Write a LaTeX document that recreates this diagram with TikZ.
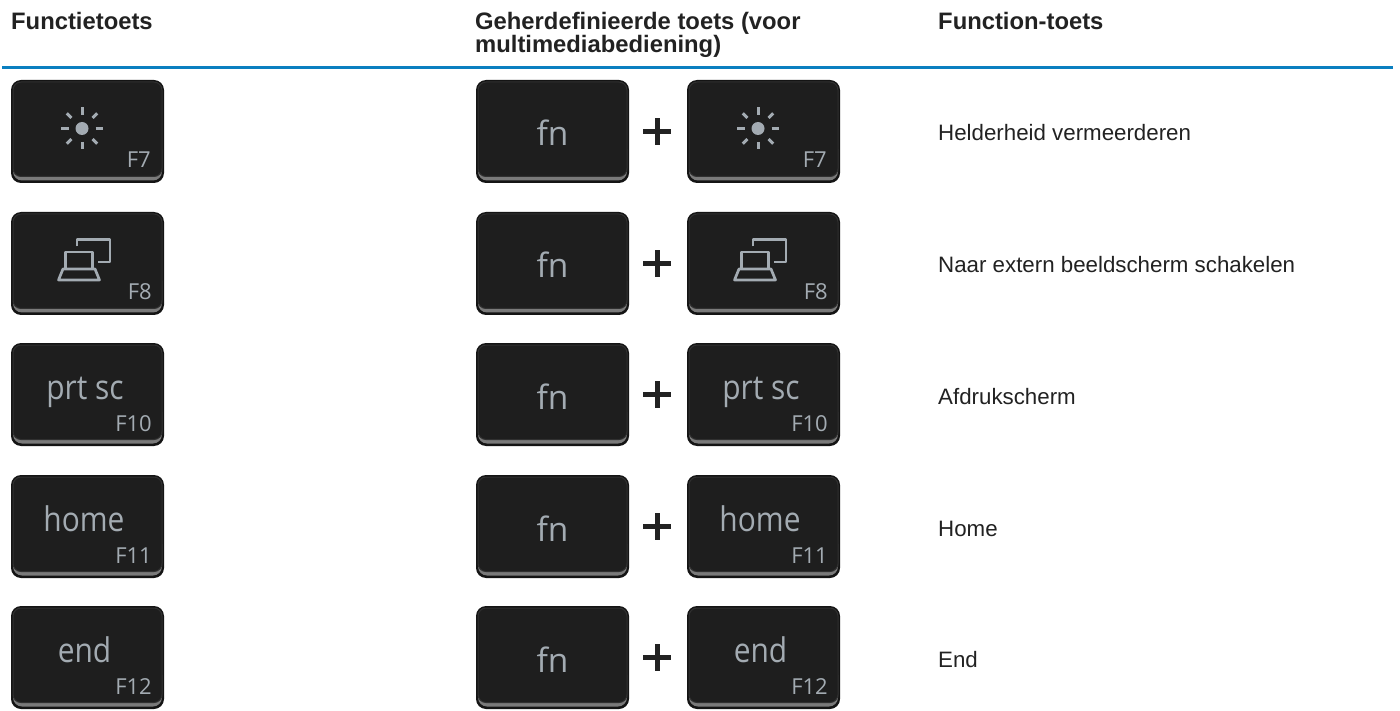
\documentclass[tikz,border=0pt]{standalone}
\usepackage{fontspec}
\setmainfont{Liberation Sans}
\newfontfamily\keyfont[FakeStretch=0.88]{Open Sans}
\newfontfamily\fnfont{Open Sans}
\definecolor{keytop}{HTML}{1E1E1E}
\definecolor{keyedge}{HTML}{141414}
\definecolor{keylip}{HTML}{7A7A7A}
\definecolor{keyrim}{HTML}{303030}
\definecolor{legend}{HTML}{A3ABB2}
\definecolor{rulec}{HTML}{0A7FC0}
\definecolor{inkc}{HTML}{222222}
\tikzset{
  headtxt/.style={anchor=base west,inner sep=0pt,font=\fontsize{23.8}{23.8}\selectfont\bfseries,text=inkc,align=left},
  desctxt/.style={anchor=base west,inner sep=0pt,font=\fontsize{22.3}{24}\selectfont,text=inkc},
  fnum/.style={anchor=base east,inner sep=0pt,text=legend,font=\fnfont\fontsize{22}{22}\selectfont},
  bigleg/.style={anchor=base,inner sep=0pt,text=legend,font=\keyfont\fontsize{34}{34}\selectfont},
  fnleg/.style={anchor=base,inner sep=0pt,text=legend,font=\fnfont\fontsize{33.5}{34}\selectfont},
  glyph/.style={draw=legend,line width=2.7pt,line join=round},
}
\newcommand{\keyshell}[3]{% name, x, y (top left)
  \fill[keyedge,rounded corners=10pt] (#2,#3) rectangle ++(153,103);
  \fill[keylip,rounded corners=9pt] (#2+2,#3+60) rectangle (#2+151,#3+100.5);
  \fill[keytop,draw=keyrim,line width=1pt,rounded corners=8pt] (#2+2,#3+2) rectangle (#2+151,#3+96.5);
  \coordinate (#1) at (#2+76.5,#3+51.5);
}
\newcommand{\sunglyph}[3]{%
  \keyshell{#1}{#2}{#3}
  \fill[legend] (#2+71,#3+48.5) circle (6.5);
  \foreach \a in {0,90,180,270}
    \draw[legend,line width=3pt] (#2+71,#3+48.5) ++(\a:13.5) -- ++(\a:7.5);
  \foreach \a in {45,135,225,315}
    \draw[legend,line width=3pt] (#2+71,#3+48.5) ++(\a:15) -- ++(\a:6.5);
  \node[fnum] (#1f) at (#2+140,#3+88) {F7};
}
\newcommand{\dispglyph}[3]{%
  \keyshell{#1}{#2}{#3}
  \begin{scope}[shift={(#2,#3)}]
    \draw[glyph] (66,34.5) -- (66,27.5) -- (99,27.5) -- (99,50) -- (87,50);
    \draw[glyph] (54.5,57) -- (54.5,40) -- (81.5,40) -- (81.5,57);
    \draw[glyph] (52,57) -- (84,57) -- (88.5,68) -- (47.5,68) -- cycle;
  \end{scope}
  \node[fnum] (#1f) at (#2+141,#3+88) {F8};
}
\newcommand{\wordkey}[6]{% name,x,y,word,F label,centre,baseline
  \keyshell{#1}{#2}{#3}
  \node[bigleg] (#1w) at (#2+#6,#3+56) {#4};
  \node[fnum] (#1f) at (#2+141,#3+88) {#5};
}
\newcommand{\fnkey}[3]{%
  \keyshell{#1}{#2}{#3}
  \node[fnleg] (#1w) at (#2+76.5,#3+66) {fn};
}
\begin{document}
\begin{tikzpicture}[x=1pt,y=-1pt]
\useasboundingbox (0,0) rectangle (1400,711);
\fill[white] (0,0) rectangle (1400,711);
\node[headtxt] (h1) at (11,30) {Functietoets};
\node[headtxt] (h2) at (475,30) {Geherdefinieerde toets (voor};
\node[headtxt] (h2b) at (475,53) {multimediabediening)};
\node[headtxt] (h3) at (938,30) {Function-toets};
\fill[rulec] (2,66) rectangle (1393,68.7);
\sunglyph{a1}{11}{80}
\dispglyph{a2}{11}{212}
\wordkey{a3}{11}{343}{prt sc}{F10}{74}
\wordkey{a4}{11}{475}{home}{F11}{73}
\wordkey{a5}{11}{606}{end}{F12}{73.5}
\fnkey{b1}{476}{80}
\fnkey{b2}{476}{212}
\fnkey{b3}{476}{343}
\fnkey{b4}{476}{475}
\fnkey{b5}{476}{606}
\sunglyph{c1}{687}{80}
\dispglyph{c2}{687}{212}
\wordkey{c3}{687}{343}{prt sc}{F10}{74}
\wordkey{c4}{687}{475}{home}{F11}{73}
\wordkey{c5}{687}{606}{end}{F12}{73.5}
\foreach \y in {131.7,263.7,394.7,526.7,657.7}{
  \fill[inkc] (643.3,\y-2.5) rectangle (670.7,\y+2.5);
  \fill[inkc] (654.5,\y-13.5) rectangle (659.5,\y+13.5);
}
\node[desctxt] (d1) at (938,140.5) {Helderheid vermeerderen};
\node[desctxt] (d2) at (938,272.5) {Naar extern beeldscherm schakelen};
\node[desctxt] (d3) at (938,404) {Afdrukscherm};
\node[desctxt] (d4) at (938,536) {Home};
\node[desctxt] (d5) at (938,667) {End};
\end{tikzpicture}
\end{document}
